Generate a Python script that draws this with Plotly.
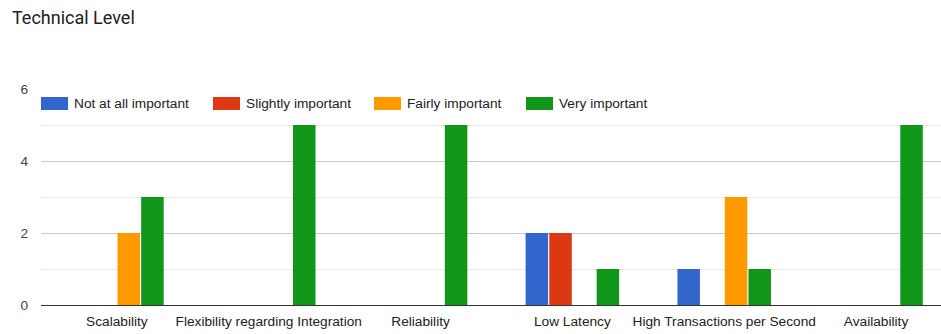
import plotly.graph_objects as go

# Survey results: how important each technical property is
categories = ["Scalability", "Flexibility regarding Integration", "Reliability",
              "Low Latency", "High Transactions per Second", "Availability"]
series_names = ["Not at all important", "Slightly important", "Fairly important", "Very important"]
not_at_all = [0, 0, 0, 2, 1, 0]
slightly = [0, 0, 0, 2, 0, 0]
fairly = [2, 0, 0, 0, 3, 0]
very = [3, 5, 5, 1, 1, 5]
series_values = [not_at_all, slightly, fairly, very]
colors = ["#3366cc", "#dc3912", "#ff9900", "#109618"]
y_ticks = [0, 2, 4, 6]

W, H = 941, 334
L, R, T, B = 41, 0, 89, 29
FONT = "Liberation Sans, Arial, sans-serif"
FS = 13.7

fig = go.Figure()
for name, vals, col in zip(series_names, series_values, colors):
    fig.add_trace(go.Bar(
        x=categories, y=vals, name=name,
        marker=dict(color=col, line=dict(width=0)),
        showlegend=False, hoverinfo="x+y+name",
    ))

# Legend drawn as wide swatches with labels inside the plot area
def px_x(px):
    return (px - L) / (W - L - R)

def px_y(py):
    return (H - B - py) / (H - T - B)

swatch_x = [41, 213, 374, 526]
shapes = []
annotations = []
for sx, name, col in zip(swatch_x, series_names, colors):
    shapes.append(dict(type="rect", xref="paper", yref="paper",
                       x0=px_x(sx), x1=px_x(sx + 27), y0=px_y(110), y1=px_y(97),
                       fillcolor=col, line=dict(width=0), layer="above"))
    annotations.append(dict(xref="paper", yref="paper", x=px_x(sx + 31), y=px_y(103.5),
                            text=name, showarrow=False, xanchor="left", yanchor="middle",
                            font=dict(family=FONT, size=FS, color="#222222")))

fig.update_layout(
    width=W, height=H,
    margin=dict(l=L, r=R, t=T, b=B, pad=0),
    paper_bgcolor="white", plot_bgcolor="white",
    barmode="group", bargap=0.376, bargroupgap=0.05,
    title=dict(text="Technical Level", x=12 / W, xanchor="left", y=1 - 17.5 / H, yanchor="middle",
               font=dict(family="Roboto, Arial, sans-serif", size=18, color="#212121")),
    font=dict(family=FONT, size=FS, color="#222222"),
    shapes=shapes, annotations=annotations,
    xaxis=dict(range=[-0.5, 5.428], showgrid=False, showline=False, ticks="",
               ticklabelstandoff=6,
               tickfont=dict(family=FONT, size=FS, color="#222222"), fixedrange=True),
    yaxis=dict(range=[0, 6], tickvals=y_ticks, ticktext=[str(v) for v in y_ticks],
               showgrid=True, gridcolor="#cccccc", gridwidth=1,
               minor=dict(dtick=1, showgrid=True, gridcolor="#ebebeb", gridwidth=1),
               zeroline=True, zerolinecolor="#333333", zerolinewidth=1,
               showline=False, ticks="", ticklabelstandoff=12,
               tickfont=dict(family=FONT, size=FS, color="#444444"), fixedrange=True),
)

fig.write_html("out.html")
